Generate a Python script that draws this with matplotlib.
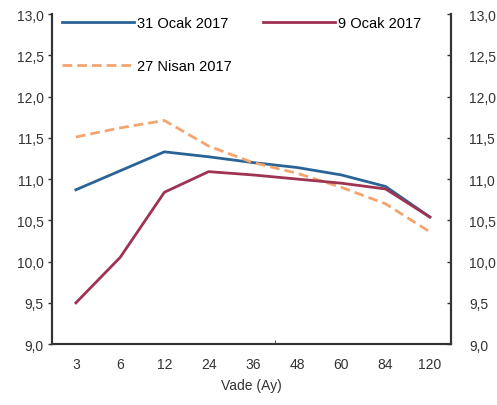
import matplotlib.pyplot as plt
import numpy as np

plt.rcParams['font.family'] = ['Liberation Sans', 'DejaVu Sans']

# Vade (ay) kategorileri ve getiri egrileri
vade = ['3', '6', '12', '24', '36', '48', '60', '84', '120']
ocak31 = [10.87, 11.10, 11.33, 11.27, 11.20, 11.14, 11.05, 10.91, 10.54]
ocak9 = [9.50, 10.05, 10.84, 11.09, 11.05, 11.00, 10.95, 10.88, 10.54]
nisan27 = [11.51, 11.62, 11.71, 11.40, 11.20, 11.07, 10.90, 10.70, 10.36]
yticks = [9.0, 9.5, 10.0, 10.5, 11.0, 11.5, 12.0, 12.5, 13.0]

fig = plt.figure(figsize=(4.97, 4.06), dpi=100)
ax = fig.add_axes([0.1046, 0.150, 0.803, 0.813])

x = np.arange(len(vade))
l1, = ax.plot(x, ocak31, color='#2a6496', lw=2, label='31 Ocak 2017')
l3, = ax.plot(x, nisan27, color='#f3a56f', lw=2, ls=(0, (3.5, 1.8)), label='27 Nisan 2017')
l2, = ax.plot(x, ocak9, color='#9e3352', lw=2, label='9 Ocak 2017')

ax.set_xlim(-0.54, 8.48)
ax.set_ylim(9.0, 13.0)
ax.set_xticks(x)
ax.set_xticklabels(vade)
ax.set_xticks([4.5], minor=True)
ax.tick_params(axis='x', which='major', length=0, pad=9, labelsize=10, colors='#333333')
ax.tick_params(axis='x', which='minor', length=3, direction='in', color='#333333')
labs = [f'{v:.1f}'.replace('.', ',') for v in yticks]
ax.set_yticks(yticks)
ax.set_yticklabels(labs)
ax.tick_params(axis='y', length=3, width=1, labelsize=10, colors='#333333', pad=3)

ax2 = ax.twinx()
ax2.set_ylim(9.0, 13.0)
ax2.set_yticks(yticks)
ax2.set_yticklabels(labs)
ax2.tick_params(axis='y', length=3, width=1, direction='in', labelsize=10, colors='#333333', pad=13)

for a in (ax, ax2):
    a.spines['top'].set_visible(False)
    for s in ('left', 'right', 'bottom'):
        a.spines[s].set_linewidth(1.5)
        a.spines[s].set_color('#333333')

ax.set_xlabel('Vade (Ay)', fontsize=10, color='#333333', labelpad=5)

ax.legend(handles=[l1, l3, l2], ncol=2, loc='upper left', bbox_to_anchor=(0.0, 1.024),
          frameon=False, fontsize=10.5, handlelength=4.9, handletextpad=0.2,
          columnspacing=2.2, labelspacing=1.95, borderaxespad=0.3)

fig.savefig('out.png', dpi=100)
